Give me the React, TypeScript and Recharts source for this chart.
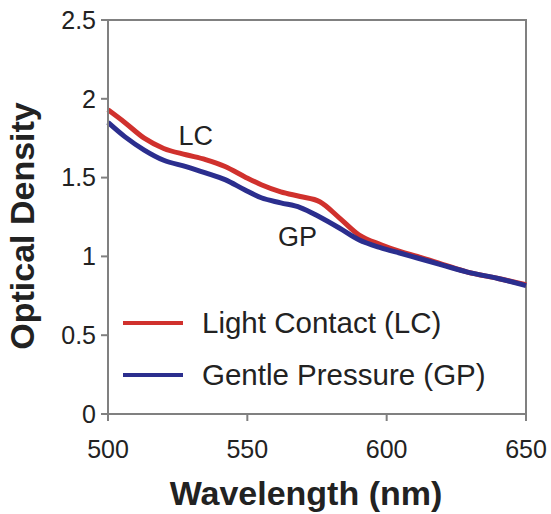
import { LineChart, Line, XAxis, YAxis, ReferenceArea, ReferenceDot, Label } from 'recharts';

const wavelengths = [500, 506, 513, 520, 528, 535, 542, 549, 555, 562, 569, 576, 583, 590, 598, 605, 611, 620, 629, 640, 650];
const lightContact = [1.93, 1.85, 1.75, 1.685, 1.645, 1.614, 1.57, 1.506, 1.455, 1.41, 1.38, 1.347, 1.245, 1.137, 1.074, 1.03, 1.0, 0.95, 0.9, 0.86, 0.82];
const gentlePressure = [1.85, 1.76, 1.675, 1.61, 1.57, 1.53, 1.487, 1.423, 1.372, 1.34, 1.31, 1.25, 1.18, 1.105, 1.054, 1.02, 0.99, 0.945, 0.9, 0.86, 0.815];
const xTicks = [500, 550, 600, 650];
const yTicks = [0, 0.5, 1, 1.5, 2, 2.5];
const notes = [
  { text: 'LC', x: 531.5, y: 1.765 },
  { text: 'GP', x: 568, y: 1.125 },
];

const series = [
  { key: 'lc', name: 'Light Contact (LC)', color: '#d0312d' },
  { key: 'gp', name: 'Gentle Pressure (GP)', color: '#2b2e8e' },
];

const data = wavelengths.map((w, i) => ({ w, lc: lightContact[i], gp: gentlePressure[i] }));

const font = '"Liberation Sans", Arial, sans-serif';
const axisGray = '#808080';

// legend sits inside the plot box, lower left
function LegendBox() {
  return (
    <div style={{ position: 'absolute', left: 123, top: 297 }}>
      {series.map((s) => (
        <div key={s.key} style={{ display: 'flex', alignItems: 'center', height: 52 }}>
          <span style={{ display: 'inline-block', width: 60, height: 4, background: s.color, marginRight: 19 }} />
          <span style={{ fontSize: 29.5, color: '#222', fontFamily: font, whiteSpace: 'nowrap' }}>{s.name}</span>
        </div>
      ))}
    </div>
  );
}

export default function App() {
  return (
    <div style={{ position: 'absolute', left: 0, top: 0, width: 551, height: 514, fontFamily: font, background: '#fff' }}>
      <LineChart width={551} height={514} data={data} margin={{ top: 20, right: 25, bottom: 0, left: 0 }}>
        <ReferenceArea x1={500} x2={650} y1={0} y2={2.5} fill="none" stroke={axisGray} strokeWidth={2} ifOverflow="visible" />
        <XAxis
          dataKey="w"
          type="number"
          domain={[500, 650]}
          ticks={xTicks}
          height={100}
          stroke={axisGray}
          strokeWidth={2}
          tickSize={7}
          tickMargin={19}
          tick={{ fontSize: 25, fill: '#222', fontFamily: font }}
        >
          <Label
            content={() => (
              <text x={306} y={505} textAnchor="middle" fontSize={34} fontWeight="bold" fill="#222" fontFamily={font}>
                Wavelength (nm)
              </text>
            )}
          />
        </XAxis>
        <YAxis
          type="number"
          domain={[0, 2.5]}
          ticks={yTicks}
          width={108}
          stroke={axisGray}
          strokeWidth={2}
          tickSize={7}
          tickMargin={5}
          tick={{ fontSize: 25, fill: '#222', fontFamily: font }}
        >
          <Label
            content={() => (
              <text
                x={34}
                y={226}
                transform="rotate(-90 34 226)"
                textAnchor="middle"
                fontSize={34}
                fontWeight="bold"
                fill="#222"
                fontFamily={font}
              >
                Optical Density
              </text>
            )}
          />
        </YAxis>
        {series.map((s) => (
          <Line
            key={s.key}
            type="monotone"
            dataKey={s.key}
            name={s.name}
            stroke={s.color}
            strokeWidth={5}
            dot={false}
            isAnimationActive={false}
          />
        ))}
        {notes.map((n) => (
          <ReferenceDot
            key={n.text}
            x={n.x}
            y={n.y}
            r={1}
            fill="none"
            stroke="none"
            label={{ value: n.text, position: 'center', fontSize: 27, fill: '#222', fontFamily: font }}
          />
        ))}
      </LineChart>
      <LegendBox />
    </div>
  );
}
